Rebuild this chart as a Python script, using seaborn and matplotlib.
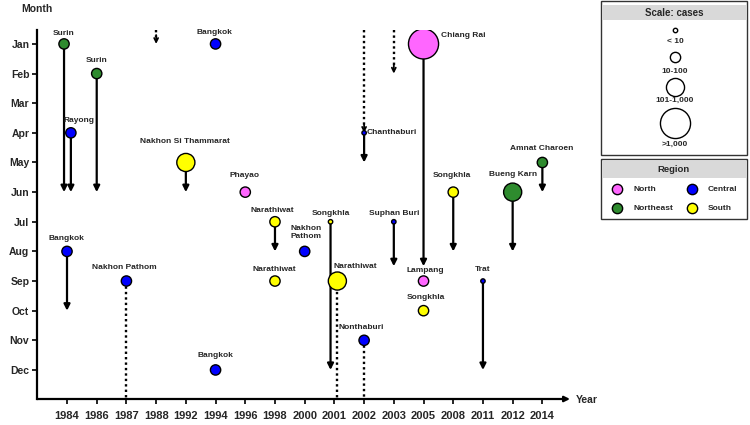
import numpy as np
import pandas as pd
import seaborn as sns
import matplotlib.pyplot as plt
from matplotlib.patches import Rectangle

# categories
years = [1984, 1986, 1987, 1988, 1992, 1994, 1996, 1998, 2000, 2001,
         2002, 2003, 2005, 2008, 2011, 2012, 2014]
months = ['Jan', 'Feb', 'Mar', 'Apr', 'May', 'Jun',
          'Jul', 'Aug', 'Sep', 'Oct', 'Nov', 'Dec']
regions = ['North', 'Central', 'Northeast', 'South']
scales = ['< 10', '10-100', '101-1,000', '>1,000']

# outbreaks
place = ['Surin', 'Rayong', 'Surin', 'Bangkok', 'Nakhon Pathom',
         'Nakhon Si Thammarat', 'Bangkok', 'Bangkok', 'Phayao',
         'Narathiwat', 'Narathiwat', 'Nakhon\nPathom', 'Songkhla',
         'Narathiwat', 'Chanthaburi', 'Nonthaburi', 'Suphan Buri',
         'Chiang Rai', 'Lampang', 'Songkhla', 'Songkhla', 'Trat',
         'Bueng Karn', 'Amnat Charoen']
year = [1984, 1984, 1986, 1984, 1987, 1992, 1994, 1994, 1996, 1998, 1998,
        2000, 2001, 2001, 2002, 2002, 2003, 2005, 2005, 2005, 2008, 2011,
        2012, 2014]
month = [1, 4, 2, 8, 9, 5, 1, 12, 6, 7, 9, 8, 7, 9, 4, 11, 7, 1, 9, 10,
         6, 9, 6, 5]
region = ['Northeast', 'Central', 'Northeast', 'Central', 'Central',
          'South', 'Central', 'Central', 'North', 'South', 'South',
          'Central', 'South', 'South', 'Central', 'Central', 'Central',
          'North', 'North', 'South', 'South', 'Central', 'Northeast',
          'Northeast']
cases = ['10-100', '10-100', '10-100', '10-100', '10-100', '101-1,000',
         '10-100', '10-100', '10-100', '10-100', '10-100', '10-100', '< 10',
         '101-1,000', '< 10', '10-100', '< 10', '>1,000', '10-100', '10-100',
         '10-100', '< 10', '101-1,000', '10-100']
# month the spread lasted until (None = no arrow, 'end' = beyond the axis)
until = [6, 6, 6, 10, 'end', 6, None, None, None, 8, None, None, 12,
         'end', 5, 'end', 8.5, 8.5, None, None, 8, 12, 8, 6]

# unknown-start dotted arrows coming from before the time axis
prior_year = [1988, 2002, 2003]
prior_until = [1, 4, 2]

df = pd.DataFrame({'place': place, 'year': year, 'month': month,
                   'region': region, 'cases': cases, 'until': until})

# layout only
dodge = {0: -0.1, 1: 0.13, 12: -0.13, 13: 0.1}
label_off = {0: (0, 10), 1: (8, 12), 2: (0, 13), 3: (-1, 13), 4: (-2, 14),
             5: (-1, 21), 6: (-1, 11), 7: (0, 14), 8: (-1, 17), 9: (-3, 11),
             10: (-1, 12), 11: (1, 19), 12: (0, 8), 13: (18, 15),
             15: (-3, 13), 16: (0, 8), 18: (2, 11), 19: (2, 13), 20: (-1, 17),
             21: (0, 12), 22: (0, 18), 23: (-1, 14)}
right_labels = {14: (3, 0), 17: (17, 8)}

palette = {'North': '#ff66ff', 'Central': '#0000ff',
           'Northeast': '#2e8b2e', 'South': '#ffff00'}
sizes = {'< 10': 10, '10-100': 55, '101-1,000': 170, '>1,000': 470}
dots = (0, (1, 1.3))

sns.set_theme(style='white')
plt.rcParams['font.family'] = ['Liberation Sans', 'DejaVu Sans']
plt.rcParams['font.weight'] = 'bold'

df['xi'] = [years.index(y) + dodge.get(i, 0) for i, y in enumerate(df['year'])]

fig = plt.figure(figsize=(7.5, 4.25), dpi=100)
ax = fig.add_axes([37 / 750, 26 / 425, 533 / 750, 369 / 425])
ytop, ybot = 0.53, 12.98

# arrows first so the circles sit on top
for i, r in df.iterrows():
    if r['until'] is None:
        continue
    if r['until'] == 'end':
        ax.plot([r['xi'], r['xi']], [r['month'], ybot], color='black',
                lw=1.7, ls=dots, zorder=1, clip_on=False)
    else:
        ax.annotate('', xy=(r['xi'], r['until']), xytext=(r['xi'], r['month']),
                    arrowprops=dict(arrowstyle='-|>', color='black', lw=1.6,
                                    mutation_scale=9, shrinkA=0, shrinkB=0),
                    zorder=1)
for y, m in zip(prior_year, prior_until):
    xi = years.index(y)
    ax.plot([xi, xi], [ytop, m - 0.25], color='black', lw=1.7,
            ls=dots, zorder=1, clip_on=False)
    ax.annotate('', xy=(xi, m), xytext=(xi, m - 0.3),
                arrowprops=dict(arrowstyle='->', color='black', lw=1.3,
                                mutation_scale=7, shrinkA=0, shrinkB=0),
                zorder=1)

sns.scatterplot(data=df, x='xi', y='month', hue='region', size='cases',
                palette=palette, sizes=sizes, size_order=scales,
                edgecolor='black', linewidth=1, legend=False, zorder=3, ax=ax)

for i, r in df.iterrows():
    if i in right_labels:
        ax.annotate(r['place'], (r['xi'], r['month']), xytext=right_labels[i],
                    textcoords='offset pixels', ha='left', va='center',
                    fontsize=6, fontweight='bold', zorder=4)
    else:
        ax.annotate(r['place'], (r['xi'], r['month']), xytext=label_off[i],
                    textcoords='offset pixels', ha='center', va='center',
                    fontsize=6, fontweight='bold', zorder=4, linespacing=1.1)

ax.set_xlim(-1.01, 16.93)
ax.set_ylim(ybot, ytop)
ax.set_xticks(range(len(years)))
ax.set_xticklabels([str(y) for y in years], fontsize=8, fontweight='bold')
ax.set_yticks(range(1, 13))
ax.set_yticklabels(months, fontsize=7.5, fontweight='bold')
ax.tick_params(axis='both', direction='out', length=3.5, width=1.2,
               color='black', pad=2, bottom=True, left=True)
ax.tick_params(axis='x', pad=5)
for s in ['top', 'right', 'bottom']:
    ax.spines[s].set_visible(False)
ax.spines['left'].set_linewidth(1.6)
ax.spines['left'].set_color('black')
ax.annotate('', xy=(1.0, 0), xytext=(0, 0), xycoords='axes fraction',
            arrowprops=dict(arrowstyle='-|>', color='black', lw=1.6,
                            mutation_scale=8, shrinkA=0, shrinkB=0))
ax.set_xlabel('')
ax.set_ylabel('')
fig.text(37 / 750, 1 - 9 / 425, 'Month', ha='center', va='center',
         fontsize=7.5, fontweight='bold')
fig.text(576 / 750, 1 - 400 / 425, 'Year', ha='left', va='center',
         fontsize=7.5, fontweight='bold')

# legend boxes drawn in pixel coordinates
lg = fig.add_axes([0, 0, 1, 1], zorder=5)
lg.set_xlim(0, 750)
lg.set_ylim(425, 0)
lg.axis('off')
lg.patch.set_alpha(0)
lg.add_patch(Rectangle((601, 1), 146, 154, fc='white', ec='#333333', lw=1))
lg.add_patch(Rectangle((602, 5), 144, 15, fc='#d9d9d9', ec='none'))
lg.text(674, 12.5, 'Scale: cases', ha='center', va='center', fontsize=7,
        fontweight='bold')
for s, cy, ty in zip(scales, [30, 57, 87, 123], [41, 71, 100, 144]):
    lg.scatter([675], [cy], s=sizes[s], facecolor='white', edgecolor='black',
               linewidth=1)
    lg.text(675, ty, s, ha='center', va='center', fontsize=6,
            fontweight='bold')

lg.add_patch(Rectangle((601, 159), 146, 60, fc='white', ec='#333333', lw=1))
lg.add_patch(Rectangle((602, 161), 144, 17, fc='#d9d9d9', ec='none'))
lg.text(674, 169.5, 'Region', ha='center', va='center', fontsize=6.8,
        fontweight='bold')
for rg, cx, cy in zip(regions, [617, 692, 617, 692], [189, 189, 208, 208]):
    lg.scatter([cx], [cy], s=55, facecolor=palette[rg], edgecolor='black',
               linewidth=1)
    lg.text(cx + 16, cy, rg, ha='left', va='center', fontsize=6,
            fontweight='bold')

fig.savefig('out.png', dpi=100)
